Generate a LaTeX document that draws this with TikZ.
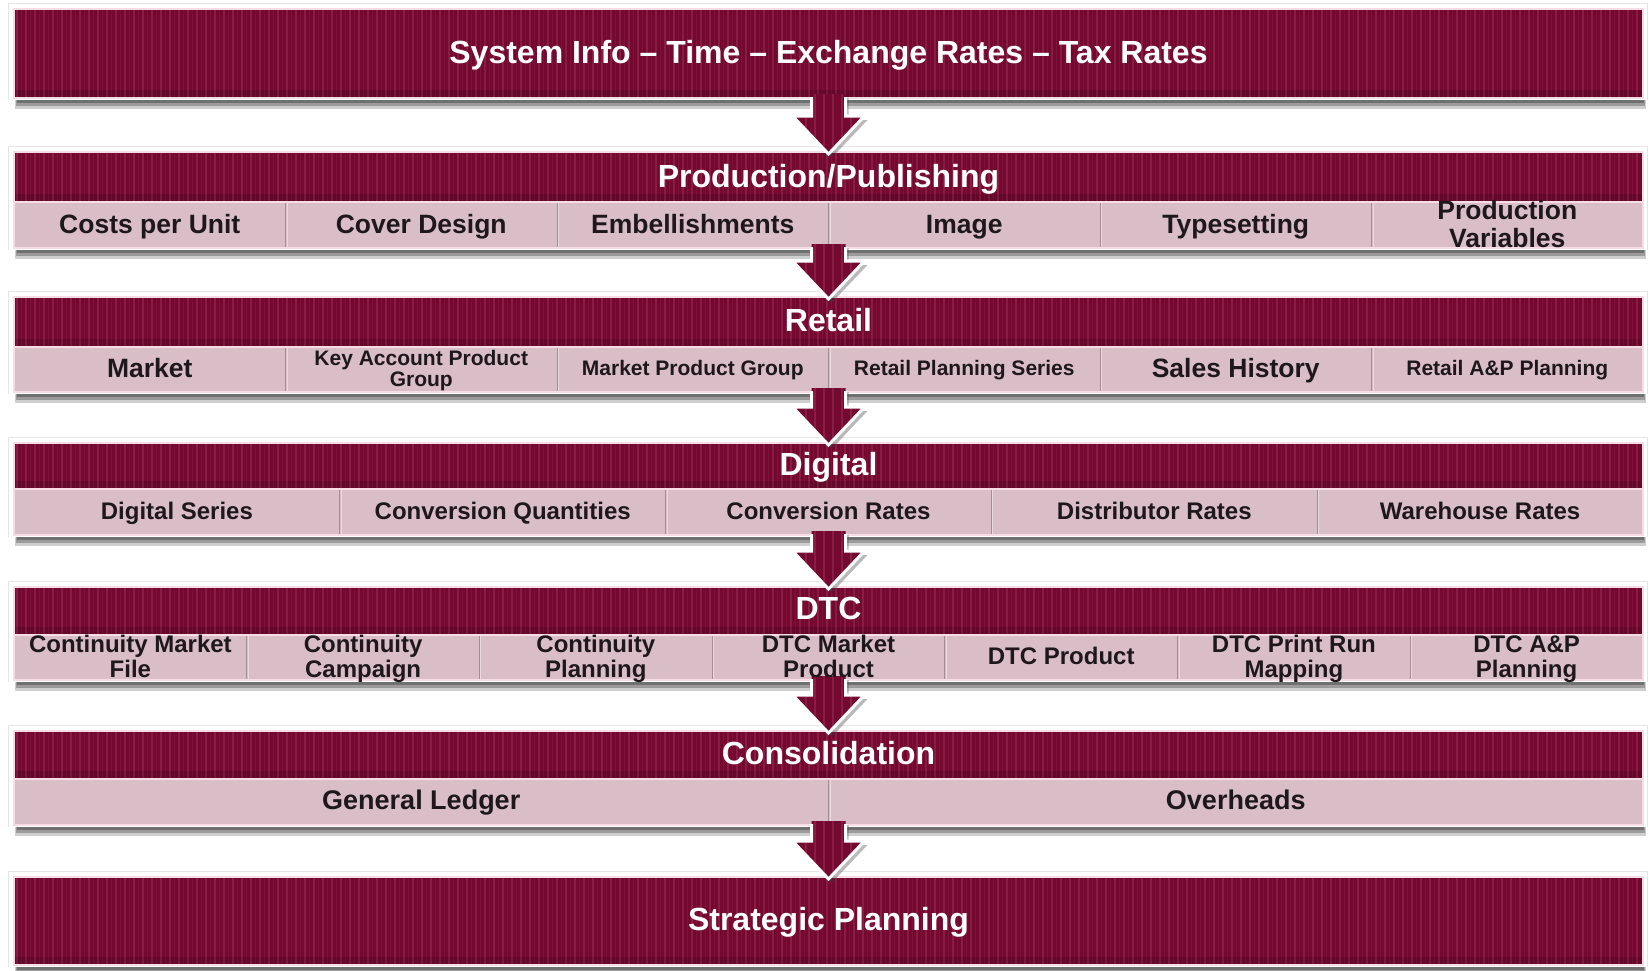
\documentclass[tikz,border=0pt]{standalone}
\usepackage{fontspec}
\setmainfont{Liberation Sans}
\usetikzlibrary{calc}

\definecolor{maroon}{RGB}{116,8,46}
\definecolor{stripec}{RGB}{152,48,88}
\definecolor{cellc}{RGB}{217,189,199}
\definecolor{edgec}{RGB}{246,220,229}
\definecolor{divc}{RGB}{168,138,148}
\definecolor{inkc}{RGB}{30,24,28}
\definecolor{shadowc}{RGB}{60,60,60}

\tikzset{
  headtext/.style={text=white, font=\fontsize{32}{34}\selectfont\bfseries,
    inner sep=0pt, text height=23pt, text depth=0pt},
  cellxl/.style={text=inkc, font=\fontsize{27}{29}\selectfont\bfseries,
    inner sep=0pt, align=center, text height=19.4pt, text depth=0pt},
  cellbig/.style={text=inkc, font=\fontsize{26.5}{28}\selectfont\bfseries,
    inner sep=0pt, align=center, text height=19pt, text depth=0pt},
  cellmid/.style={text=inkc, font=\fontsize{24}{25}\selectfont\bfseries,
    inner sep=0pt, align=center, text height=17.3pt, text depth=0pt},
  cellsmall/.style={text=inkc, font=\fontsize{21}{21}\selectfont\bfseries,
    inner sep=0pt, align=center, text height=15.1pt, text depth=0pt},
  bandstripe/.style={stripec, opacity=.55, line width=1.1pt},
  bandstripefaint/.style={stripec, opacity=.25, line width=.8pt},
}

% #1 top, #2 end of the dark heading strip, #3 bottom of the cell row
\newcommand{\maroonband}[3]{%
  \fill[shadowc,opacity=.25] (15,#3) rectangle (1646,#3+11);
  \fill[shadowc,opacity=.35] (16,#3) rectangle (1645,#3+8);
  \fill[shadowc,opacity=.45] (17,#3) rectangle (1644,#3+5);
  \draw[black!10,line width=.8pt] (8.5,#1-5.5) rectangle (1647.5,#3+1.5);
  \fill[white] (9,#1-5) rectangle (1647,#3+1.5);
  \fill[maroon] (14,#1) rectangle (1643,#2);
  \foreach \sx in {17,26,...,1640} \draw[bandstripe] (\sx,#1) -- (\sx,#2);
  \foreach \sx in {21.5,30.5,...,1640} \draw[bandstripefaint] (\sx,#1) -- (\sx,#2);
  \fill[black,opacity=.12] (14,#2-8) rectangle (1643,#2);
  \fill[cellc] (14,#2) rectangle (1643,#3);
  \draw[edgec,line width=1.5pt] (14,#1) rectangle (1643,#3);
  \draw[edgec,line width=1.2pt] (14,#2) -- (1643,#2);
}

% vertical separators of a cell row: #1 top, #2 bottom, #3 x positions
\newcommand{\celldivs}[3]{%
  \foreach \dx in {#3} {%
    \draw[divc,line width=1pt] (\dx,#1+1) -- (\dx,#2-1);
    \draw[white,opacity=.45,line width=1pt] (\dx+1.5,#1+1) -- (\dx+1.5,#2-1);
  }%
}

% block arrow from the bottom of one band (#1) to the top of the next (#2)
\newcommand{\flowarrow}[2]{%
  \fill[shadowc,opacity=.35] ($(#1)+(-14,0)$) -- ($(#2)+(-14,-32)$) -- ($(#2)+(-33,-32)$)
    -- ($(#2)+(3,6)$) -- ($(#2)+(39,-32)$) -- ($(#2)+(20,-32)$) -- ($(#1)+(20,0)$) -- cycle;
  \fill[maroon] ($(#1)+(-17,-4)$) -- ($(#2)+(-17,-36)$) -- ($(#2)+(-36,-36)$)
    -- ($(#2)+(0,2)$) -- ($(#2)+(36,-36)$) -- ($(#2)+(17,-36)$) -- ($(#1)+(17,-4)$) -- cycle;
  \begin{scope}
    \clip ($(#1)+(-17,-4)$) -- ($(#2)+(-17,-36)$) -- ($(#2)+(-36,-36)$)
      -- ($(#2)+(0,2)$) -- ($(#2)+(36,-36)$) -- ($(#2)+(17,-36)$) -- ($(#1)+(17,-4)$) -- cycle;
    \foreach \sx in {-36,-27,...,36}
      \draw[bandstripe] ($(#1)+(\sx+4.5,-6)$) -- ($(#2)+(\sx+4.5,4)$);
  \end{scope}
  \draw[white,line width=3pt,line join=miter] ($(#1)+(-17,-1)$) -- ($(#2)+(-17,-36)$)
    -- ($(#2)+(-36,-36)$) -- ($(#2)+(0,2)$) -- ($(#2)+(36,-36)$)
    -- ($(#2)+(17,-36)$) -- ($(#1)+(17,-1)$);
}

\begin{document}
\begin{tikzpicture}[x=1pt,y=-1pt]
\useasboundingbox (0,0) rectangle (1649,970);
\fill[white] (0,0) rectangle (1649,970);

% bands, top to bottom
\maroonband{9}{98}{98}
\maroonband{152}{202}{248}
\celldivs{202}{248}{285.5,557,828.5,1100,1371.5}
\maroonband{297}{347}{392}
\celldivs{347}{392}{285.5,557,828.5,1100,1371.5}
\maroonband{443}{489}{535}
\celldivs{489}{535}{339.8,665.6,991.4,1317.2}
\maroonband{587}{635}{680}
\celldivs{635}{680}{246.7,479.4,712.1,944.9,1177.6,1410.3}
\maroonband{731}{779}{825}
\celldivs{779}{825}{828.5}
\maroonband{877}{965}{965}

% band edges the arrows run between
\coordinate (s1) at (828.5,98);
\coordinate (n2) at (828.5,152);
\coordinate (s2) at (828.5,248);
\coordinate (n3) at (828.5,297);
\coordinate (s3) at (828.5,392);
\coordinate (n4) at (828.5,443);
\coordinate (s4) at (828.5,535);
\coordinate (n5) at (828.5,587);
\coordinate (s5) at (828.5,680);
\coordinate (n6) at (828.5,731);
\coordinate (s6) at (828.5,825);
\coordinate (n7) at (828.5,877);

\flowarrow{s1}{n2}
\flowarrow{s2}{n3}
\flowarrow{s3}{n4}
\flowarrow{s4}{n5}
\flowarrow{s5}{n6}
\flowarrow{s6}{n7}

% headings
\node[headtext] (sys) at (828.5,52) {System Info – Time – Exchange Rates – Tax Rates};
\node[headtext] (prod) at (828.5,176) {Production/Publishing};
\node[headtext] (ret) at (828.5,320) {Retail};
\node[headtext] (dig) at (828.5,464) {Digital};
\node[headtext] (dtc) at (828.5,608) {DTC};
\node[headtext] (cons) at (828.5,753) {Consolidation};
\node[headtext] (strat) at (828.5,919) {Strategic Planning};

% production / publishing
\node[cellbig] (p1) at (149.75,224) {Costs per Unit};
\node[cellbig] (p2) at (421.25,224) {Cover Design};
\node[cellbig] (p3) at (692.75,224) {Embellishments};
\node[cellbig] (p4) at (964.25,224) {Image};
\node[cellbig] (p5) at (1235.75,224) {Typesetting};
\node[cellbig] (p6) at (1507.25,238) {Production\\Variables};

% retail
\node[cellbig] (r1) at (149.75,368) {Market};
\node[cellsmall] (r2) at (421.25,378.5) {Key Account Product\\Group};
\node[cellsmall] (r3) at (692.75,368) {Market Product Group};
\node[cellsmall] (r4) at (964.25,368) {Retail Planning Series};
\node[cellbig] (r5) at (1235.75,368) {Sales History};
\node[cellsmall] (r6) at (1507.25,368) {Retail A\&P Planning};

% digital
\node[cellmid] (d1) at (176.9,511) {Digital Series};
\node[cellmid] (d2) at (502.7,511) {Conversion Quantities};
\node[cellmid] (d3) at (828.5,511) {Conversion Rates};
\node[cellmid] (d4) at (1154.3,511) {Distributor Rates};
\node[cellmid] (d5) at (1480.1,511) {Warehouse Rates};

% direct to consumer
\node[cellmid] (c1) at (130.4,668.5) {Continuity Market\\File};
\node[cellmid] (c2) at (363.1,668.5) {Continuity\\Campaign};
\node[cellmid] (c3) at (595.8,668.5) {Continuity\\Planning};
\node[cellmid] (c4) at (828.5,668.5) {DTC Market\\Product};
\node[cellmid] (c5) at (1061.2,656) {DTC Product};
\node[cellmid] (c6) at (1293.9,668.5) {DTC Print Run\\Mapping};
\node[cellmid] (c7) at (1526.6,668.5) {DTC A\&P\\Planning};

% consolidation
\node[cellxl] (g1) at (421.25,800) {General Ledger};
\node[cellxl] (g2) at (1235.75,800) {Overheads};
\end{tikzpicture}
\end{document}
